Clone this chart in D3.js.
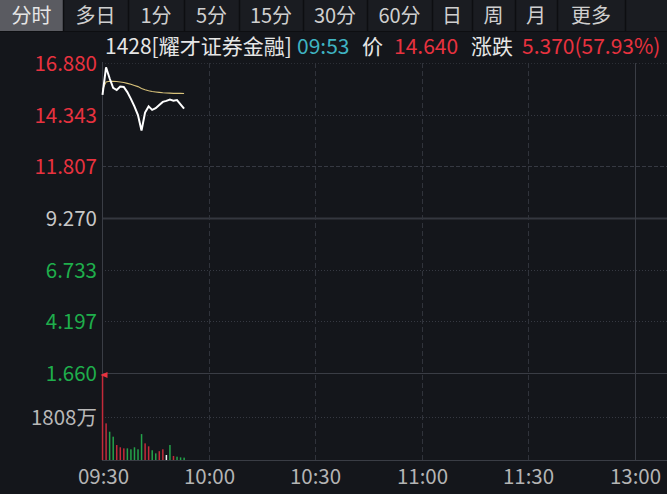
<!DOCTYPE html>
<html><head><meta charset="utf-8">
<script src="https://cdn.jsdelivr.net/npm/d3@7/dist/d3.min.js"></script>
<style>
html,body{margin:0;padding:0;background:#14161b;}
svg{display:block;}
</style></head>
<body>
<svg id="chart" width="667" height="494"></svg>
<script>
const tabs = ["分时","多日","1分","5分","15分","30分","60分","日","周","月","更多"];
const times = ["09:30","09:31","09:32","09:33","09:34","09:35","09:36","09:37","09:38","09:39","09:40","09:41","09:42","09:43","09:44","09:45","09:46","09:47","09:48","09:49","09:50","09:51","09:52","09:53"];
const price = [15.31,16.67,16.13,15.66,15.55,15.72,15.70,15.45,15.12,14.75,14.32,13.56,14.45,14.75,14.58,14.66,14.82,14.97,15.02,15.08,15.03,15.06,14.85,14.64];
const avgPrice = [15.58,15.95,15.98,15.98,15.97,15.95,15.92,15.88,15.84,15.78,15.72,15.63,15.57,15.52,15.48,15.46,15.44,15.42,15.41,15.40,15.39,15.39,15.39,15.38];
const volume = [5200,1540,1190,980,630,535,490,490,450,535,450,1090,700,575,410,280,370,450,210,630,170,140,110,100]; // 万
const volDir = ["up","up","down","down","up","up","up","down","down","down","down","down","up","up","down","down","up","up","flat","down","up","down","down","down"];
const priceTicks = [16.880,14.343,11.807,9.270,6.733,4.197,1.660];
const prevClose = 9.270;
const volTickLabel = "1808万";
const volTick = 1808;
const xTickLabels = ["09:30","10:00","10:30","11:00","11:30","13:00"];
const xTickMinutes = [0,30,60,90,120,150];
const headerTexts = ["1428[耀才证券金融]","09:53","价","14.640","涨跌","5.370(57.93%)"];
const headerKinds = ["label","time","label","value","label","value"];

const svg = d3.select("#chart");
const W = 667, H = 494;
const FONT = "'Noto Sans CJK SC','Noto Sans',sans-serif";
const RED = "#e8323f", GREEN = "#1fae4c", GRID = "#363942";

// minute index from time string (HK session: morning 09:30-12:00, afternoon starts 13:00)
function tradeMinute(t){
  const [h,m] = t.split(":").map(Number);
  const mins = h*60+m;
  if (mins >= 13*60) return (mins - 13*60) + 150;
  return mins - (9*60+30);
}

const x = d3.scaleLinear().domain([0,150]).range([102.5,634.5]);
const y = d3.scaleLinear().domain([1.660,16.880]).range([373,63]);
const yv = d3.scaleLinear().domain([0,volTick*2]).range([460,374]);

// tab bar
svg.append("rect").attr("x",0).attr("y",0).attr("width",W).attr("height",31).attr("fill","#1a1c21");
const tabW = [63,65,56,55,64,64,65,40,43,42,68];
let tx = 0;
tabs.forEach((t,i)=>{
  const w = tabW[i];
  if (i===0) svg.append("rect").attr("x",tx).attr("y",0).attr("width",w).attr("height",31).attr("fill","#5a5b61");
  svg.append("text").attr("x",tx+w/2).attr("y",23).attr("text-anchor","middle")
    .attr("font-family",FONT).attr("font-size",20).attr("fill", i===0?"#e6e6e6":"#cfcfcf").text(t);
  tx += w;
  svg.append("line").attr("x1",tx+0.5).attr("x2",tx+0.5).attr("y1",0).attr("y2",31).attr("stroke","#0d0e11").attr("stroke-width",1.5);
});
svg.append("line").attr("x1",0).attr("x2",W).attr("y1",31.5).attr("y2",31.5).attr("stroke","#0d0e11");

// header
const headerX = [105,297,362,394,471,522];
const kindColor = {label:"#e6e6e6", time:"#3fb3c2", value:RED};
svg.append("g").selectAll("text").data(headerTexts).join("text")
  .attr("x",(d,i)=>headerX[i]).attr("y",54)
  .attr("font-family",FONT).attr("font-size",21)
  .attr("fill",(d,i)=>kindColor[headerKinds[i]]).text(d=>d);

// grid
const g = svg.append("g");
const styles = {
  16.880:{dash:"1,2",w:1,c:"#2c2f36"},
  14.343:{dash:"1,2",w:1,c:GRID},
  11.807:{dash:"4,2",w:1,c:GRID},
  9.270:{dash:null,w:2,c:"#34373f"},
  6.733:{dash:"1,2",w:1,c:GRID},
  4.197:{dash:"1,2",w:1,c:GRID},
  1.660:{dash:null,w:1,c:"#3a3d45"}
};
priceTicks.forEach(v=>{
  const s = styles[v];
  const yy = Math.round(y(v))+0.5;
  g.append("line").attr("x1",102).attr("x2",W).attr("y1",yy).attr("y2",yy)
    .attr("stroke",s.c).attr("stroke-width",s.w).attr("stroke-dasharray",s.dash);
  const col = v>prevClose?RED:(v<prevClose?GREEN:"#c8c8c8");
  g.append("text").attr("x",97).attr("y",yy).attr("dy","0.36em").attr("text-anchor","end")
    .attr("font-family",FONT).attr("font-size",20.5).attr("fill",col).text(v.toFixed(3));
});
// volume grid
const vy = Math.round(yv(volTick))+0.5;
g.append("line").attr("x1",102).attr("x2",W).attr("y1",vy).attr("y2",vy).attr("stroke",GRID).attr("stroke-dasharray","1,2");
g.append("text").attr("x",97).attr("y",vy).attr("dy","0.36em").attr("text-anchor","end")
  .attr("font-family",FONT).attr("font-size",20.5).attr("fill","#b8b8b8").text(volTickLabel);
g.append("line").attr("x1",102).attr("x2",W).attr("y1",460.5).attr("y2",460.5).attr("stroke","#3a3d45");

// vertical grid
xTickMinutes.forEach((m,i)=>{
  const xx = Math.round(x(m))+0.5;
  if (i>0) g.append("line").attr("x1",xx).attr("x2",xx).attr("y1",63).attr("y2",460)
    .attr("stroke", i===5?"#3a3d45":"#30333b").attr("stroke-dasharray", i===5?null:"5,3");
  g.append("text").attr("x",xx).attr("y",484).attr("text-anchor","middle")
    .attr("font-family",FONT).attr("font-size",20.5).attr("fill","#b4b4b4").text(xTickLabels[i]);
});
// left axis line
g.append("line").attr("x1",102.5).attr("x2",102.5).attr("y1",62).attr("y2",460).attr("stroke","#3a3d45");

// volume bars (clipped to volume area)
svg.append("clipPath").attr("id","vclip").append("rect").attr("x",0).attr("y",374).attr("width",W).attr("height",87);
const dirColor = {up:"#c42a3a",down:"#24a24a",flat:"#f0f0f0"};
svg.append("g").attr("clip-path","url(#vclip)").selectAll("rect").data(volume).join("rect")
  .attr("x",(d,i)=>x(tradeMinute(times[i]))-0.7)
  .attr("width",1.5)
  .attr("y",d=>yv(d))
  .attr("height",d=>460-yv(d))
  .attr("fill",(d,i)=>dirColor[volDir[i]]);
// overflow marker on first bar
const fx = x(tradeMinute(times[0]));
svg.append("path").attr("d",`M${fx-2},${375} L${fx+5},${372} L${fx+5},${378} Z`).attr("fill","#e8323f");

// avg price line
const line = d3.line().x((d,i)=>x(tradeMinute(times[i]))).y(d=>y(d)).curve(d3.curveLinear);
svg.append("path").datum(avgPrice).attr("d",line).attr("fill","none").attr("stroke","#d8c27a").attr("stroke-width",1.1);
// price line
svg.append("path").datum(price).attr("d",line).attr("fill","none").attr("stroke","#ffffff").attr("stroke-width",2);
</script>
</body></html>
